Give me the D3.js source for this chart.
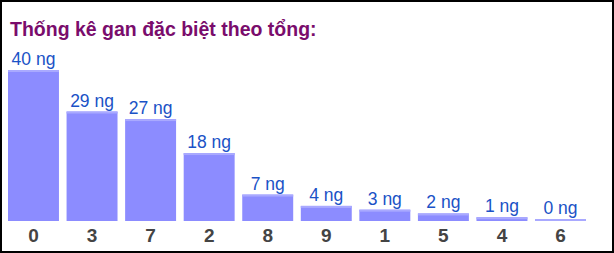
<!DOCTYPE html>
<html><head><meta charset="utf-8">
<script src="https://cdn.jsdelivr.net/npm/d3@7"></script>
<style>
html,body{margin:0;padding:0;background:#fff;}
svg{display:block;}
</style></head>
<body>
<script>
const title = "Thống kê gan đặc biệt theo tổng:";
const categories = ["0","3","7","2","8","9","1","5","4","6"];
const values = [40,29,27,18,7,4,3,2,1,0];
const unit = " ng";

const W = 614, H = 253;
const svg = d3.select("body").append("svg").attr("width", W).attr("height", H);
svg.append("rect").attr("x",1).attr("y",1).attr("width",W-2).attr("height",H-2)
  .attr("fill","#fff").attr("stroke","#000").attr("stroke-width",2);

svg.append("text").attr("x",10).attr("y",36).text(title)
  .attr("font-family","Arial, 'Liberation Sans', sans-serif").attr("font-weight","bold")
  .attr("font-size",19.5).attr("fill","#7a0c6c");

const x = d3.scaleBand().domain(categories).range([4.5, 589.5]).paddingInner(0.13).paddingOuter(0.06);
const y = d3.scaleLinear().domain([0,40]).range([221,70]);

const g = svg.append("g");
categories.forEach((c,i)=>{
  const v = values[i];
  const top = Math.min(y(v), 219);
  g.append("rect").attr("x",x(c)).attr("y",top).attr("width",x.bandwidth()).attr("height",221-top).attr("fill","#8c8cff");
  g.append("rect").attr("x",x(c)).attr("y",top).attr("width",x.bandwidth()).attr("height",Math.min(2,221-top)).attr("fill","#a9a9ff");
  g.append("text").attr("x",x(c)+x.bandwidth()/2).attr("y",top-5).attr("text-anchor","middle")
    .text(v+unit).attr("font-family","Arial, 'Liberation Sans', sans-serif").attr("font-size",17.5).attr("fill","#1a52c6");
});

const xAxis = d3.axisBottom(x).tickSize(0).tickPadding(0);
const ax = svg.append("g").attr("transform","translate(0,228)").call(xAxis);
ax.select(".domain").remove();
ax.selectAll("text").attr("font-family","Arial, 'Liberation Sans', sans-serif").attr("font-weight","bold")
  .attr("font-size",19).attr("fill","#444").attr("dy","0.71em");
</script>
</body></html>
